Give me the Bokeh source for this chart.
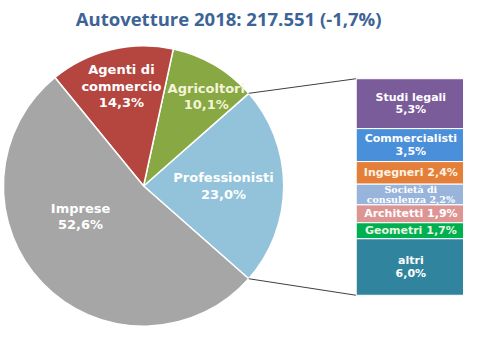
import numpy as np
from bokeh.plotting import figure
from bokeh.models import Range1d, ColumnDataSource
from bokeh.core.properties import value
from bokeh.embed import file_html
from bokeh.resources import INLINE

# ---------------- data ----------------
title_text = "Autovetture 2018: 217.551 (-1,7%)"

pie_categories = ["Professionisti", "Agricoltori", "Agenti di commercio", "Imprese"]
pie_values = [23.0, 10.1, 14.3, 52.6]
pie_label_lines = [["Professionisti"], ["Agricoltori"], ["Agenti di", "commercio"], ["Imprese"]]

bar_categories = ["Studi legali", "Commercialisti", "Ingegneri", "Società di consulenza",
                  "Architetti", "Geometri", "altri"]
bar_values = [5.3, 3.5, 2.4, 2.2, 1.9, 1.7, 6.0]

# ---------------- styles / layout ----------------
pie_colors = ["#92C3DA", "#87A843", "#B5453F", "#A6A6A6"]
pie_text_colors = ["white", "#F4F4D8", "white", "white"]
bar_colors = ["#7A5C9A", "#4A8FDA", "#E47F3A", "#98B4DA", "#DC9592", "#00AF50", "#31849E"]
bar_text_colors = ["white", "white", "#FFF2E0", "white", "white", "#E8F5E0", "white"]

H = 360.0
cx, cy, R = 148.0, H - 194.0, 145.0
bar_x0, bar_x1 = 368.0, 479.0
bar_top, bar_bot = H - 83.0, H - 307.0
# label placement in polar coords (fraction of radius, angle in degrees)
pie_label_r = [0.57, 0.78, 0.73, 0.50]
pie_label_ang = [0.0, 55.0, 102.5, 206.0]

def fmt(v):
    return f"{v:.1f}".replace(".", ",") + "%"

p = figure(width=464, height=344, x_range=Range1d(0, 480), y_range=Range1d(2.07, 357.93),
           toolbar_location=None, output_backend="svg", min_border=0,
           x_axis_type=None, y_axis_type=None)
p.grid.visible = False
p.outline_line_color = None
p.background_fill_color = "white"

# ---------------- pie ----------------
total = sum(pie_values)
start0 = -pie_values[0] / total * 2 * np.pi / 2.0
angles = np.cumsum([0] + pie_values) / total * 2 * np.pi + start0
pie_src = ColumnDataSource(dict(start=angles[:-1], end=angles[1:], color=pie_colors))
p.wedge(x=cx, y=cy, radius=R, start_angle="start", end_angle="end",
        fill_color="color", line_color="white", line_width=1.5, source=pie_src)

# pie labels
tx, ty, tt, tc = [], [], [], []
for i, cat in enumerate(pie_categories):
    lines = pie_label_lines[i] + [fmt(pie_values[i])]
    a = np.radians(pie_label_ang[i])
    lx = cx + pie_label_r[i] * R * np.cos(a)
    ly = cy + pie_label_r[i] * R * np.sin(a)
    n = len(lines)
    for j, ln in enumerate(lines):
        tx.append(lx)
        ty.append(ly + ((n - 1) / 2.0 - j) * 17.0)
        tt.append(ln)
        tc.append(pie_text_colors[i])
p.text(x=tx, y=ty, text=tt, text_color=tc, text_align="center", text_baseline="middle",
       text_font=value("DejaVu Sans"), text_font_style="bold", text_font_size="13px")

# ---------------- connector lines ----------------
a_top = angles[1]
a_bot = angles[0]
p.segment(x0=[cx + R * np.cos(a_top), cx + R * np.cos(a_bot)],
          y0=[cy + R * np.sin(a_top), cy + R * np.sin(a_bot)],
          x1=[bar_x0, bar_x0], y1=[bar_top, bar_bot], line_color="#404040", line_width=1)

# ---------------- stacked bar ----------------
scale = (bar_top - bar_bot) / sum(bar_values)
cum = np.cumsum([0] + bar_values)
tops = bar_top - cum[:-1] * scale
bots = bar_top - cum[1:] * scale
bar_src = ColumnDataSource(dict(top=tops, bottom=bots, color=bar_colors))
p.quad(left=bar_x0, right=bar_x1, top="top", bottom="bottom", fill_color="color",
       line_color="white", line_width=1, source=bar_src)

bar_label_lines = [["Studi legali", fmt(bar_values[0])],
                   ["Commercialisti", fmt(bar_values[1])],
                   ["Ingegneri " + fmt(bar_values[2])],
                   ["Società di", "consulenza " + fmt(bar_values[3])],
                   ["Architetti " + fmt(bar_values[4])],
                   ["Geometri " + fmt(bar_values[5])],
                   ["altri", fmt(bar_values[6])]]
bx, by, bt, bc = [], [], [], []
sx, sy, st = [], [], []
mid_x = (bar_x0 + bar_x1) / 2.0 + 1
for i, lines in enumerate(bar_label_lines):
    mid = (tops[i] + bots[i]) / 2.0
    n = len(lines)
    for j, ln in enumerate(lines):
        yy = mid + ((n - 1) / 2.0 - j) * 13.0
        if i == 3:
            sx.append(mid_x); sy.append(mid + ((n - 1) / 2.0 - j) * 10.5); st.append(ln)
        else:
            bx.append(mid_x); by.append(yy); bt.append(ln); bc.append(bar_text_colors[i])
p.text(x=bx, y=by, text=bt, text_color=bc, text_align="center", text_baseline="middle",
       text_font=value("DejaVu Sans"), text_font_style="bold", text_font_size="11px")
p.text(x=sx, y=sy, text=st, text_color="white", text_align="center", text_baseline="middle",
       text_font=value("DejaVu Serif"), text_font_style="bold", text_font_size="9.5px")

# ---------------- title ----------------
p.text(x=[236], y=[H - 21], text=[title_text], text_color="#3C6496", text_align="center",
       text_baseline="middle", text_font=value("Open Sans"), text_font_style="bold",
       text_font_size="18.5px")

open("out.html", "w").write(file_html(p, INLINE))
